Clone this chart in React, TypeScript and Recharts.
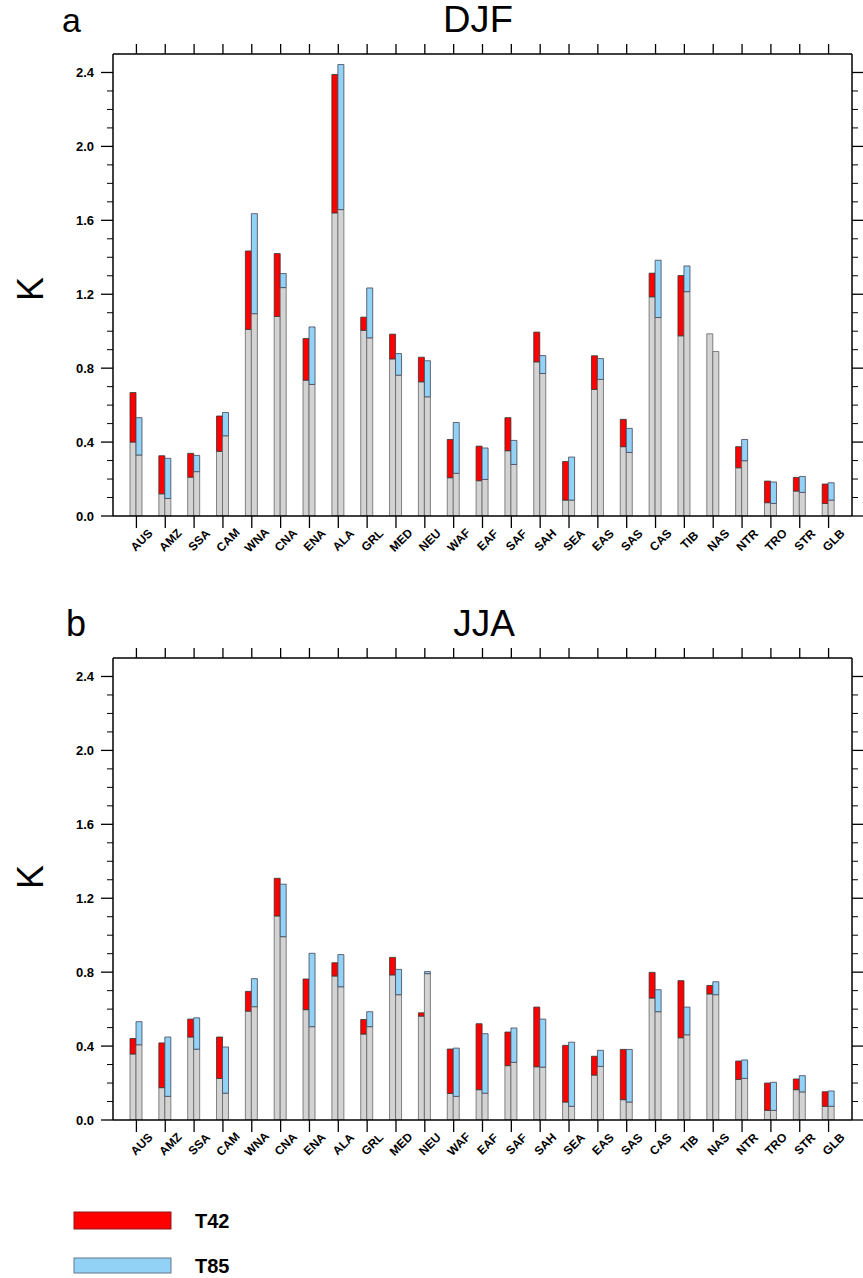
import React from 'react';
import { BarChart, Bar, XAxis, YAxis } from 'recharts';

const FONT = "'Liberation Sans', Arial, Helvetica, sans-serif";

const categories = [
  'AUS', 'AMZ', 'SSA', 'CAM', 'WNA', 'CNA', 'ENA', 'ALA', 'GRL', 'MED', 'NEU', 'WAF', 'EAF',
  'SAF', 'SAH', 'SEA', 'EAS', 'SAS', 'CAS', 'TIB', 'NAS', 'NTR', 'TRO', 'STR', 'GLB',
];

// DJF (panel a)
const djfT42Base = [0.40, 0.12, 0.21, 0.35, 1.01, 1.08, 0.735, 1.64, 1.005, 0.85, 0.726, 0.207, 0.191, 0.353, 0.834, 0.086, 0.685, 0.375, 1.186, 0.975, 0.986, 0.261, 0.072, 0.135, 0.068];
const djfT42Total = [0.668, 0.326, 0.339, 0.541, 1.434, 1.42, 0.96, 2.389, 1.076, 0.984, 0.859, 0.414, 0.378, 0.532, 0.995, 0.295, 0.867, 0.523, 1.314, 1.301, 0.986, 0.375, 0.189, 0.209, 0.173];
const djfT85Base = [0.33, 0.095, 0.24, 0.434, 1.095, 1.236, 0.712, 1.658, 0.964, 0.762, 0.645, 0.231, 0.198, 0.279, 0.771, 0.086, 0.739, 0.344, 1.074, 1.214, 0.89, 0.299, 0.068, 0.128, 0.086];
const djfT85Total = [0.532, 0.312, 0.328, 0.56, 1.636, 1.312, 1.023, 2.443, 1.234, 0.879, 0.84, 0.506, 0.368, 0.409, 0.868, 0.319, 0.852, 0.474, 1.384, 1.353, 0.89, 0.414, 0.184, 0.214, 0.18];

// JJA (panel b)
const jjaT42Base = [0.357, 0.175, 0.449, 0.225, 0.589, 1.104, 0.597, 0.779, 0.465, 0.785, 0.562, 0.144, 0.164, 0.294, 0.288, 0.097, 0.243, 0.11, 0.66, 0.445, 0.682, 0.22, 0.052, 0.164, 0.074];
const jjaT42Total = [0.441, 0.417, 0.546, 0.449, 0.696, 1.308, 0.763, 0.851, 0.544, 0.88, 0.58, 0.384, 0.521, 0.476, 0.611, 0.404, 0.345, 0.382, 0.799, 0.754, 0.728, 0.319, 0.2, 0.222, 0.153];
const jjaT85Base = [0.407, 0.128, 0.383, 0.145, 0.613, 0.992, 0.505, 0.721, 0.505, 0.678, 0.792, 0.128, 0.145, 0.312, 0.286, 0.074, 0.29, 0.097, 0.586, 0.461, 0.678, 0.225, 0.052, 0.152, 0.074];
const jjaT85Total = [0.532, 0.449, 0.553, 0.395, 0.765, 1.276, 0.902, 0.895, 0.586, 0.815, 0.803, 0.389, 0.467, 0.498, 0.546, 0.421, 0.377, 0.382, 0.705, 0.611, 0.748, 0.325, 0.204, 0.24, 0.157];

const yTicks = [0, 0.1, 0.2, 0.3, 0.4, 0.5, 0.6, 0.7, 0.8, 0.9, 1.0, 1.1, 1.2, 1.3, 1.4, 1.5, 1.6, 1.7, 1.8, 1.9, 2.0, 2.1, 2.2, 2.3, 2.4];
const yDomain: [number, number] = [0, 2.5];

const GRAY = '#d3d3d3';
const RED = '#ff0000';
const BLUE = '#93d2f7';

function buildRows(t42Base: number[], t42Total: number[], t85Base: number[], t85Total: number[]) {
  return categories.map((name, i) => ({
    name,
    g42: t42Base[i],
    r42: Math.max(0, t42Total[i] - t42Base[i]),
    g85: t85Base[i],
    b85: Math.max(0, t85Total[i] - t85Base[i]),
  }));
}

const isMajor = (v: number) => Math.round(v * 10) % 4 === 0;

const LeftTick = (props: any) => {
  const { x, y, payload } = props;
  const major = isMajor(payload.value);
  return (
    <g>
      <line x1={x} x2={x - (major ? 12 : 6)} y1={y} y2={y} stroke="#000" strokeWidth={major ? 1.3 : 1} />
      {major && (
        <text x={x - 19} y={y} dy="0.36em" textAnchor="end" fontSize={13} fontWeight="bold" fontFamily={FONT} fill="#000">
          {Number(payload.value).toFixed(1)}
        </text>
      )}
    </g>
  );
};

const RightTick = (props: any) => {
  const { x, y, payload } = props;
  const major = isMajor(payload.value);
  return <line x1={x} x2={x + (major ? 12 : 6)} y1={y} y2={y} stroke="#000" strokeWidth={major ? 1.3 : 1} />;
};

const XTick = (props: any) => {
  const { x, y, payload } = props;
  return (
    <text
      transform={`translate(${x + 5},${y + 12}) rotate(-45)`}
      textAnchor="middle"
      dy="0.35em"
      fontSize={12}
      fontWeight="bold"
      fontFamily={FONT}
      fill="#000"
    >
      {payload.value}
    </text>
  );
};

const EmptyTick = () => <g />;

function Panel({ rows, top }: { rows: any[]; top: number }) {
  const axisLine = { stroke: '#000', strokeWidth: 1.5 };
  const tickLine = { stroke: '#000', strokeWidth: 1.3 };
  return (
    <div style={{ position: 'absolute', left: 0, top, width: 863, height: 600 }}>
      <BarChart
        width={863}
        height={600}
        data={rows}
        margin={{ top: 40, right: 10, bottom: 44, left: 53 }}
        barGap={0}
        barSize={6}
      >
        <XAxis
          xAxisId="bottom"
          dataKey="name"
          orientation="bottom"
          height={40}
          padding={{ left: 9, right: 9 }}
          interval={0}
          tickSize={12}
          tickMargin={0}
          axisLine={axisLine}
          tickLine={tickLine}
          tick={<XTick />}
        />
        <XAxis
          xAxisId="top"
          dataKey="name"
          orientation="top"
          height={14}
          padding={{ left: 9, right: 9 }}
          interval={0}
          tickSize={10}
          tickMargin={0}
          axisLine={axisLine}
          tickLine={tickLine}
          tick={<EmptyTick />}
        />
        <YAxis
          yAxisId="left"
          orientation="left"
          width={60}
          domain={yDomain}
          ticks={yTicks}
          interval={0}
          tickSize={0}
          tickMargin={0}
          tickLine={false}
          axisLine={axisLine}
          tick={<LeftTick />}
          allowDataOverflow
        />
        <YAxis
          yAxisId="right"
          orientation="right"
          width={1}
          domain={yDomain}
          ticks={yTicks}
          interval={0}
          tickSize={0}
          tickMargin={0}
          tickLine={false}
          axisLine={axisLine}
          tick={<RightTick />}
          allowDataOverflow
        />
        <Bar dataKey="g42" stackId="t42" xAxisId="bottom" yAxisId="left" fill={GRAY} stroke="#666" strokeWidth={0.8} isAnimationActive={false} />
        <Bar dataKey="r42" stackId="t42" xAxisId="bottom" yAxisId="left" fill={RED} stroke="#333" strokeWidth={0.8} isAnimationActive={false} />
        <Bar dataKey="g85" stackId="t85" xAxisId="bottom" yAxisId="left" fill={GRAY} stroke="#666" strokeWidth={0.8} isAnimationActive={false} />
        <Bar dataKey="b85" stackId="t85" xAxisId="bottom" yAxisId="left" fill={BLUE} stroke="#445" strokeWidth={0.8} isAnimationActive={false} />
      </BarChart>
    </div>
  );
}

export default function App() {
  const djfRows = buildRows(djfT42Base, djfT42Total, djfT85Base, djfT85Total);
  const jjaRows = buildRows(jjaT42Base, jjaT42Total, jjaT85Base, jjaT85Total);
  return (
    <div style={{ position: 'absolute', left: 0, top: 0, width: 863, height: 1278, background: '#fff', overflow: 'hidden' }}>
      <Panel rows={djfRows} top={0} />
      <Panel rows={jjaRows} top={604} />
      <svg width={863} height={1278} style={{ position: 'absolute', left: 0, top: 0, pointerEvents: 'none' }}>
        <g fontFamily={FONT} fill="#000">
          <text x={62} y={32} fontSize={34}>a</text>
          <text x={478} y={32} fontSize={34} textAnchor="middle" transform="translate(478,32) scale(1.12,1.08) translate(-478,-32)">DJF</text>
          <text transform="translate(43,289) rotate(-90)" fontSize={36} textAnchor="middle">K</text>

          <text x={66} y={636} fontSize={36}>b</text>
          <text x={484} y={636} fontSize={37} textAnchor="middle">JJA</text>
          <text transform="translate(43,877) rotate(-90)" fontSize={36} textAnchor="middle">K</text>

          <rect x={74} y={1212} width={97} height={17} fill={RED} stroke="#8a1a1a" strokeWidth={1} />
          <text x={195} y={1228} fontSize={20} fontWeight="bold">T42</text>
          <rect x={74} y={1258} width={97} height={15} fill={BLUE} stroke="#667788" strokeWidth={1} />
          <text x={195} y={1273} fontSize={20} fontWeight="bold">T85</text>
        </g>
      </svg>
    </div>
  );
}
